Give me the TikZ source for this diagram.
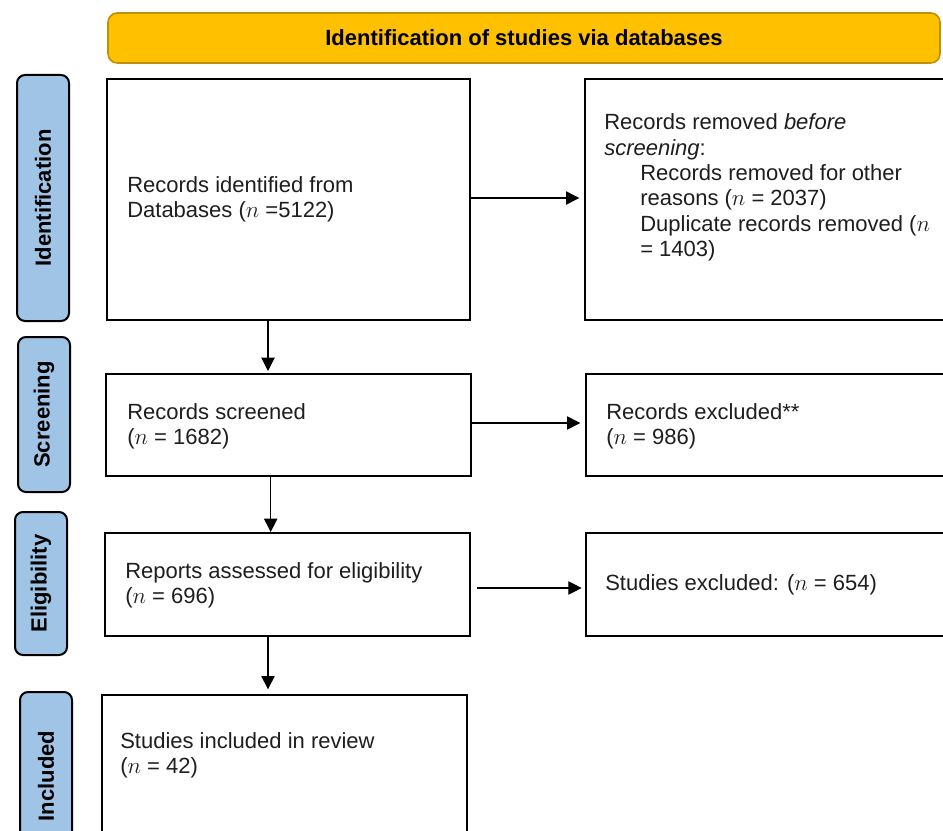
\documentclass[tikz,border=0pt]{standalone}
\usepackage{fontspec}
\setmainfont{Liberation Sans}
\usetikzlibrary{arrows.meta}
\definecolor{hdrfill}{RGB}{255,192,0}
\definecolor{hdrdraw}{RGB}{191,144,0}
\definecolor{phasefill}{RGB}{160,196,230}
\definecolor{ink}{RGB}{30,30,30}
\tikzset{
  box/.style={draw=black, line width=1.5pt, fill=white, inner sep=0pt},
  txt/.style={anchor=west, align=left, inner sep=0pt, text=ink, font=\fontsize{16.5}{19}\selectfont},
  phase/.style={draw=black, line width=1.5pt, fill=phasefill, rounded corners=6pt, rotate=90,
    inner sep=0pt, minimum height=39pt, font=\bfseries\fontsize{16.5}{19}\selectfont},
  arr/.style={-{Triangle[length=10pt,width=10pt]}, line width=0.8pt},
}
\begin{document}
\begin{tikzpicture}[x=0.75pt,y=-0.75pt]
\useasboundingbox (0,0) rectangle (943,831);
\clip (0,0) rectangle (943,831);

% header
\node[draw=hdrdraw, fill=hdrfill, line width=1.2pt, rounded corners=7pt,
  minimum width=624pt, minimum height=37.5pt, inner sep=0pt,
  font=\bfseries\fontsize{16.5}{19}\selectfont] (hdr) at (524,38) {Identification of studies via databases};

% phase labels
\node[phase, minimum width=184.5pt] (pid) at (43,198) {Identification};
\node[phase, minimum width=116.25pt] (psc) at (44,414.5) {Screening};
\node[phase, minimum width=107.25pt] (pel) at (41,583.5) {Eligibility};
\node[phase, minimum width=126pt] (pin) at (46,776) {Included};

% boxes
\node[box, minimum width=272.25pt, minimum height=180.75pt] (b1) at (288.5,199.5) {};
\node[box, minimum width=277.5pt, minimum height=180.75pt] (b2) at (770,199.5) {};
\node[box, minimum width=273.75pt, minimum height=76.5pt] (b3) at (288.5,425) {};
\node[box, minimum width=276.75pt, minimum height=76.5pt] (b4) at (770.5,425) {};
\node[box, minimum width=273.75pt, minimum height=77.25pt] (b5) at (287.5,584.5) {};
\node[box, minimum width=276.75pt, minimum height=77.25pt] (b6) at (770.5,584.5) {};
\node[box, minimum width=273.75pt, minimum height=123.75pt] (b7) at (284.5,777.5) {};

% texts
\node[txt] (t1) at (127,199.5) {Records identified from\\Databases ($n$ =5122)};
\node[txt] (t2) at (604,187.5) {Records removed \textit{before}\\\textit{screening}:\\
  \hspace*{27pt}Records removed for other\\
  \hspace*{27pt}reasons ($n$ = 2037)\\
  \hspace*{27pt}Duplicate records removed ($n$\\
  \hspace*{27pt}= 1403)};
\node[txt] (t3) at (127,426.5) {Records screened\\($n$ = 1682)};
\node[txt] (t4) at (606,426.5) {Records excluded**\\($n$ = 986)};
\node[txt] (t5) at (125,585.5) {Reports assessed for eligibility\\($n$ = 696)};
\node[txt] (t6) at (605,585) {Studies excluded: ($n$ = 654)};
\node[txt] (t7) at (120,755) {Studies included in review\\($n$ = 42)};

% connector guides
\coordinate (v1) at (268,0);
\coordinate (v2) at (270.7,0);
\coordinate (v3) at (268,0);
\coordinate (h1) at (0,198);
\coordinate (h2) at (0,423);
\coordinate (h3) at (0,588);

% connectors
\draw[arr] (b1.south -| v1) -- ([yshift=1.5pt]b3.north -| v1);
\draw[arr] (b3.south -| v2) -- (b5.north -| v2);
\draw[arr] (b5.south -| v3) -- ([yshift=3.5pt]b7.north -| v3);
\draw[arr] (b1.east |- h1) -- ([xshift=-3.5pt]b2.west |- h1);
\draw[arr] (b3.east |- h2) -- ([xshift=-3.5pt]b4.west |- h2);
\draw[arr, shorten <=4.5pt] (b5.east |- h3) -- ([xshift=-2.5pt]b6.west |- h3);
\end{tikzpicture}
\end{document}
